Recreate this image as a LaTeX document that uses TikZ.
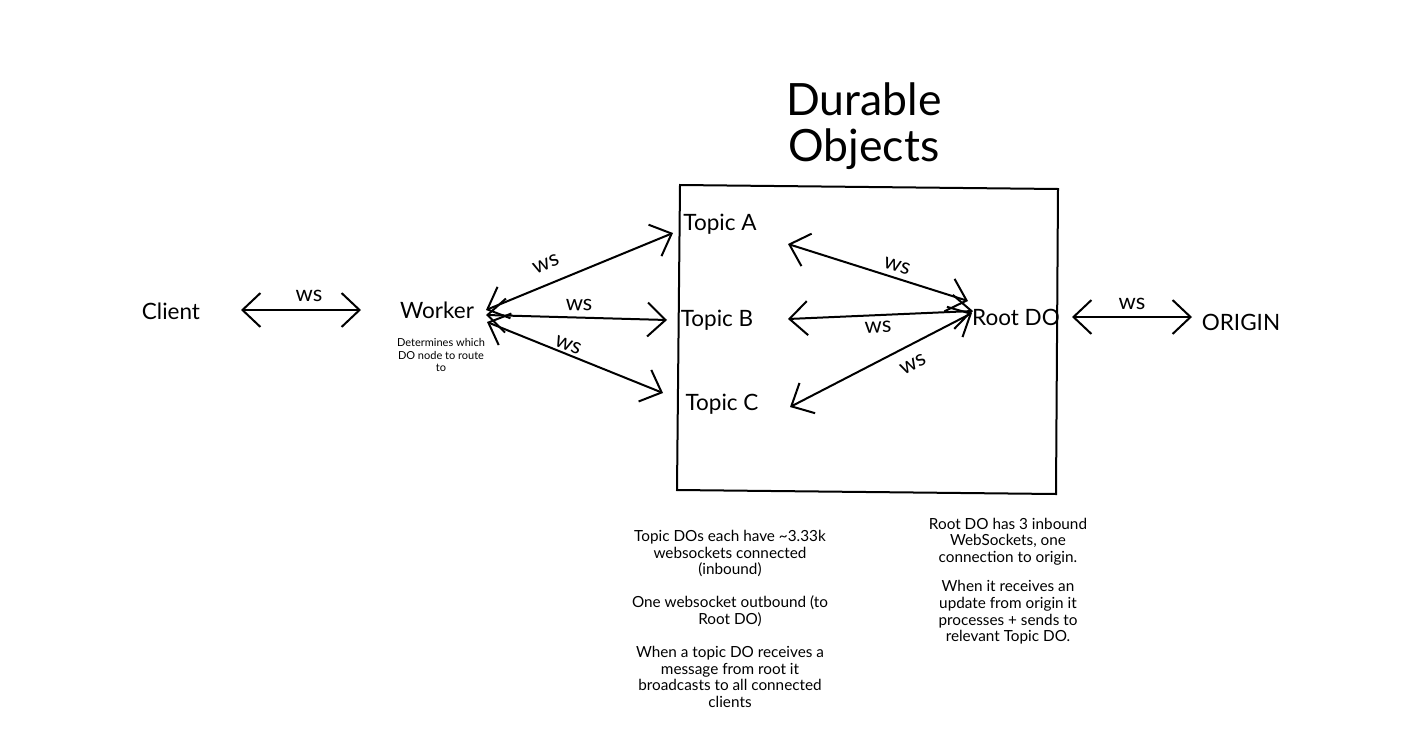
\documentclass[tikz,border=0pt]{standalone}
\usepackage{fontspec}
\setmainfont{Lato}
\usetikzlibrary{arrows.meta,calc}
\begin{document}
\begin{tikzpicture}[x=1pt,y=-1pt,
  lbl/.style={font=\fontsize{22.5}{26}\selectfont, inner sep=0pt},
  wsl/.style={font=\fontsize{22}{24}\selectfont, inner sep=0pt},
  note/.style={align=center, font=\fontsize{15.3}{16.6}\selectfont, inner sep=0pt},
  conn/.style={line width=2pt, {Straight Barb[length=18pt,width=34pt]}-{Straight Barb[length=18pt,width=34pt]}},
]
\useasboundingbox[fill=white] (0,0) rectangle (1428,750);

% title and box
\node[align=center, font=\fontsize{44.5}{46}\selectfont, inner sep=0pt] (title) at (864,126) {Durable\\Objects};
\draw[line width=2pt] (680,185) -- (1058,189) -- (1056,494) -- (677,490) -- cycle;

% nodes
\node[lbl] (cl) at (171,311) {Client};
\node[lbl] (wk) at (437,310) {Worker};
\node[note, font=\fontsize{11}{12.5}\selectfont] (wkn) at (441,355) {Determines which\\DO node to route\\to};
\node[lbl] (ta) at (720,224) {Topic A};
\node[lbl] (tb) at (717,320) {Topic B};
\node[lbl] (tc) at (722,404) {Topic C};
\node[lbl] (rd) at (1016,317) {Root DO};
\node[lbl] (or) at (1241,322) {ORIGIN};

% connectors
\draw[conn] ($(cl)+(70,-1)$) -- ($(wk)+(-76,0)$);
\draw[conn] ($(wk)+(49,0)$) -- ($(ta)+(-47,9)$);
\draw[conn] ($(wk)+(49,5)$) -- ($(tb)+(-50,0)$);
\draw[conn] ($(wk)+(50,12)$) -- ($(tc)+(-59,-11)$);
\draw[conn] ($(ta)+(68,20)$) -- ($(rd)+(-48,-16)$);
\draw[conn] ($(tb)+(71,-1)$) -- ($(rd)+(-43,-6)$);
\draw[conn] ($(tc)+(68,3)$) -- ($(rd)+(-44,-4)$);
\draw[conn] ($(rd)+(56,0)$) -- ($(or)+(-49,-5)$);

% ws labels
\node[wsl] (w1) at (309,296) {ws};
\node[wsl, rotate=22] (w2) at (546,264) {ws};
\node[wsl, rotate=-1.5] (w3) at (579,305) {ws};
\node[wsl, rotate=-22] (w4) at (568,345) {ws};
\node[wsl, rotate=-17] (w5) at (897,266) {ws};
\node[wsl, rotate=2] (w6) at (878,327) {ws};
\node[wsl, rotate=27] (w7) at (913,364) {ws};
\node[wsl] (w8) at (1132,304) {ws};

% notes
\node[note] (n1) at (730,619) {Topic DOs each have \textasciitilde 3.33k\\websockets connected\\(inbound)\\[16.6pt]One websocket outbound (to\\Root DO)\\[16.6pt]When a topic DO receives a\\message from root it\\broadcasts to all connected\\clients};
\node[note] (n2) at (1008,581) {Root DO has 3 inbound\\WebSockets, one\\connection to origin.\\[13pt]When it receives an\\update from origin it\\processes + sends to\\relevant Topic DO.};
\end{tikzpicture}
\end{document}
